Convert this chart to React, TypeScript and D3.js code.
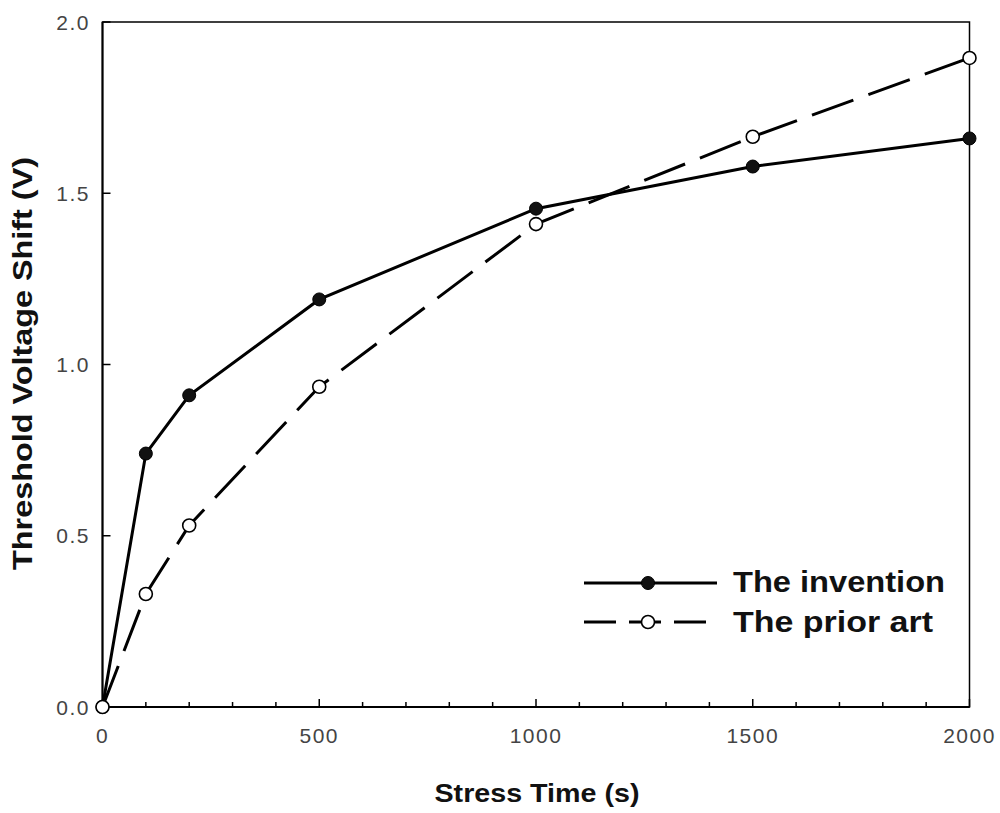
import React from "react";
import * as d3 from "d3";

const stressTimes = [0, 100, 200, 500, 1000, 1500, 2000];
const inventionValues = [0, 0.74, 0.91, 1.19, 1.455, 1.578, 1.66];
const priorArtValues = [0, 0.33, 0.53, 0.935, 1.41, 1.665, 1.895];
const xMajorTicks = [0, 500, 1000, 1500, 2000];
const xMinorTicks = d3.range(0, 2001, 100);
const yTicks = [0, 0.5, 1.0, 1.5, 2.0];
const seriesNames = ["The invention", "The prior art"];

const W = 1000;
const H = 813;
const left = 102.5;
const right = 969.5;
const top = 22;
const bottom = 707;

export default function App() {
  const x = d3.scaleLinear().domain([0, 2000]).range([left, right]);
  const y = d3.scaleLinear().domain([0, 2]).range([bottom, top]);
  const line = d3
    .line<[number, number]>()
    .x((d) => x(d[0]))
    .y((d) => y(d[1]));
  const inv: [number, number][] = stressTimes.map((t, i) => [t, inventionValues[i]]);
  const pri: [number, number][] = stressTimes.map((t, i) => [t, priorArtValues[i]]);
  const tickFont = "'Liberation Sans', Arial, sans-serif";
  const boldFont = "'Liberation Sans', Arial, sans-serif";

  return (
    <svg
      width={W}
      height={H}
      style={{ position: "absolute", left: 0, top: 0, display: "block", background: "#fff" }}
    >
      {/* frame */}
      <rect x={left} y={top} width={right - left} height={bottom - top} fill="none" stroke="#000" strokeWidth={1.5} />
      <line x1={left} x2={left} y1={top} y2={bottom} stroke="#000" strokeWidth={2} />
      <line x1={left} x2={right} y1={bottom} y2={bottom} stroke="#000" strokeWidth={2} />

      {/* x ticks */}
      {xMinorTicks.map((t) => {
        const major = xMajorTicks.includes(t);
        return (
          <line key={"xt" + t} x1={x(t)} x2={x(t)} y1={bottom} y2={bottom - (major ? 8 : 5)} stroke="#000" strokeWidth={1.5} />
        );
      })}
      {xMajorTicks.map((t) => (
        <text key={"xl" + t} x={x(t)} y={743} textAnchor="middle" fontFamily={tickFont} fontSize={21} fill="#444" letterSpacing={1.5}>
          {t}
        </text>
      ))}

      {/* y ticks */}
      {yTicks.map((v) => (
        <g key={"y" + v}>
          <line x1={left} x2={left + 8} y1={y(v)} y2={y(v)} stroke="#000" strokeWidth={1.5} />
          <text x={90} y={y(v) + 7.5} textAnchor="end" fontFamily={tickFont} fontSize={21} fill="#444" letterSpacing={1.5}>
            {v.toFixed(1)}
          </text>
        </g>
      ))}

      {/* axis titles */}
      <text x={537} y={802} textAnchor="middle" fontFamily={boldFont} fontWeight="bold" fontSize={26} textLength={205} lengthAdjust="spacingAndGlyphs" fill="#111">
        Stress Time (s)
      </text>
      <text
        transform={`translate(32, ${(157 + 570) / 2}) rotate(-90)`}
        textAnchor="middle"
        fontFamily={boldFont}
        fontWeight="bold"
        fontSize={27}
        textLength={413}
        lengthAdjust="spacingAndGlyphs"
        fill="#111"
      >
        Threshold Voltage Shift (V)
      </text>

      {/* series lines */}
      <path d={line(pri) || ""} fill="none" stroke="#000" strokeWidth={3} strokeDasharray="44,16" />
      <path d={line(inv) || ""} fill="none" stroke="#000" strokeWidth={3} />

      {/* markers */}
      {inv.map((d, i) => (
        <circle key={"i" + i} cx={x(d[0])} cy={y(d[1])} r={6.5} fill="#111" stroke="#000" strokeWidth={1} />
      ))}
      {pri.map((d, i) => (
        <circle key={"p" + i} cx={x(d[0])} cy={y(d[1])} r={6.5} fill="#fff" stroke="#000" strokeWidth={1.6} />
      ))}

      {/* legend */}
      <line x1={584} x2={717} y1={583} y2={583} stroke="#000" strokeWidth={3} />
      <circle cx={648} cy={583} r={6.5} fill="#111" stroke="#000" strokeWidth={1} />
      <text x={733} y={592} fontFamily={boldFont} fontWeight="bold" fontSize={29} textLength={212} lengthAdjust="spacingAndGlyphs" fill="#111">
        {seriesNames[0]}
      </text>
      <line x1={584} x2={710} y1={622} y2={622} stroke="#000" strokeWidth={3} strokeDasharray="32,13" />
      <circle cx={648} cy={622} r={6.5} fill="#fff" stroke="#000" strokeWidth={1.6} />
      <text x={733} y={632} fontFamily={boldFont} fontWeight="bold" fontSize={29} textLength={200} lengthAdjust="spacingAndGlyphs" fill="#111">
        {seriesNames[1]}
      </text>
    </svg>
  );
}
